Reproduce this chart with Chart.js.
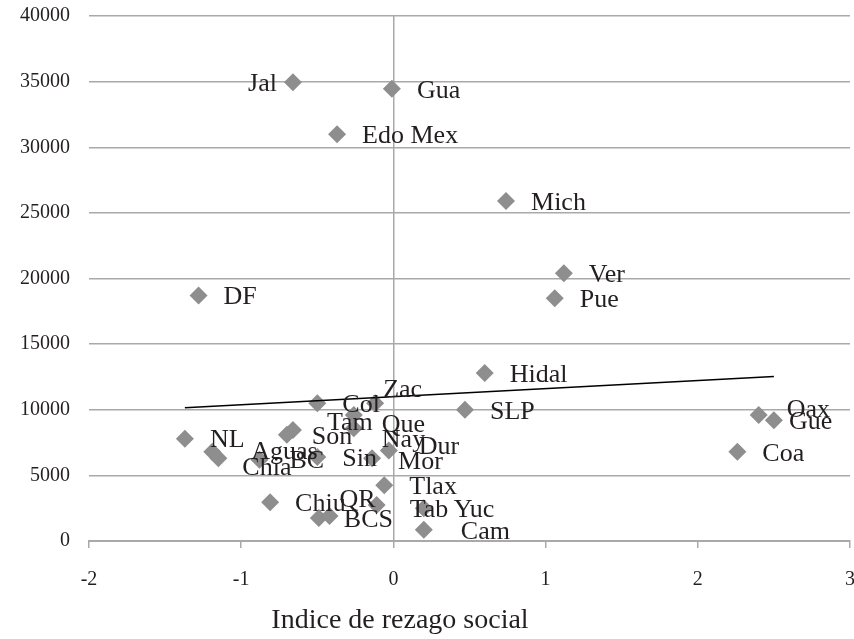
<!DOCTYPE html>
<html>
<head>
<meta charset="utf-8">
<script src="https://cdn.jsdelivr.net/npm/chart.js@4.4.0/dist/chart.umd.min.js"></script>
<style>
	html, body { margin: 0; padding: 0; background: #fff; overflow: hidden; }
	#wrap { width: 854px; height: 639px; }
</style>
</head>
<body>
<div id="wrap"><canvas id="scatter-chartcanvas"></canvas></div>
<script>
// data
var states = ["Jal", "Gua", "Edo Mex", "Mich", "Ver", "Pue", "DF", "Hidal", "SLP", "Oax", "Gue", "Coa",
	"NL", "Aguas", "Chia", "BC", "Col", "Zac", "Que", "Nay", "Son", "Tam", "Sin", "Mor", "Dur",
	"Chiu", "BCS", "QR", "Tlax", "Tab", "Yuc", "Cam"];
var rezago = [-0.66, -0.01, -0.37, 0.74, 1.12, 1.06, -1.28, 0.60, 0.47, 2.40, 2.50, 2.26,
	-1.37, -1.19, -1.15, -0.88, -0.50, -0.12, -0.26, -0.26, -0.70, -0.66, -0.50, -0.14, -0.03,
	-0.81, -0.49, -0.42, -0.06, -0.11, 0.20, 0.20];
var values = [34950, 34450, 31000, 25900, 20400, 18500, 18700, 12800, 10000, 9600, 9200, 6800,
	7800, 6800, 6300, 6200, 10500, 10500, 9600, 8600, 8100, 8450, 6400, 6300, 6900,
	2950, 1750, 1900, 4250, 2750, 2500, 850];
var xTicks = [-2, -1, 0, 1, 2, 3];
var yTicks = [0, 5000, 10000, 15000, 20000, 25000, 30000, 35000, 40000];
var xTitle = "Indice de rezago social";

var FONT = "'Liberation Serif', 'DejaVu Serif', serif";
var INK = "#231f20";
var GRID = "#a9a9a9";

var points = [];
for (var i = 0; i < states.length; i++) {
	points.push({ x: rezago[i], y: values[i] });
}

// linear trend line (least squares) over the data range
var n = rezago.length, sx = 0, sy = 0, sxx = 0, sxy = 0;
for (var i = 0; i < n; i++) {
	sx += rezago[i]; sy += values[i];
	sxx += rezago[i] * rezago[i]; sxy += rezago[i] * values[i];
}
var slope = (n * sxy - sx * sy) / (n * sxx - sx * sx);
var icpt = (sy - slope * sx) / n;
var xMin = Math.min.apply(null, rezago), xMax = Math.max.apply(null, rezago);
var trend = [{ x: xMin, y: icpt + slope * xMin }, { x: xMax, y: icpt + slope * xMax }];

// label nudges in pixels (default: right of the marker)
var nudge = {
	"Jal": { dx: -16, dy: 2, align: "right" },
	"Oax": { dx: 28, dy: -5 },
	"Gue": { dx: 15, dy: 2 },
	"Aguas": { dx: 39, dy: 0 },
	"Chia": { dx: 24, dy: 10 },
	"BC": { dx: 30, dy: 2 },
	"Zac": { dx: 8, dy: -13 },
	"Tam": { dx: 34, dy: -7 },
	"Que": { dx: 28, dy: 10 },
	"Nay": { dx: 28, dy: 12 },
	"Dur": { dx: 30, dy: -3 },
	"Mor": { dx: 26, dy: 4 },
	"QR": { dx: 10, dy: -16 },
	"Tab": { dx: 33, dy: 5 },
	"Yuc": { dx: 30, dy: 2 },
	"Cam": { dx: 37, dy: 2 }
};

var pointLabels = {
	id: "pointLabels",
	afterDatasetsDraw: function(chart) {
		var ctx = chart.ctx;
		var meta = chart.getDatasetMeta(1);
		ctx.save();
		ctx.font = "26px " + FONT;
		ctx.fillStyle = INK;
		ctx.textBaseline = "middle";
		meta.data.forEach(function(el, i) {
			var nd = nudge[states[i]] || { dx: 25, dy: 2 };
			ctx.textAlign = nd.align || "left";
			ctx.fillText(states[i], el.x + nd.dx, el.y + nd.dy);
		});
		// axis title, placed as in the original (left of the axis centre)
		ctx.font = "28px " + FONT;
		ctx.textAlign = "center";
		ctx.fillText(xTitle, 400, 621);
		ctx.restore();
	}
};

var ctx = document.getElementById("scatter-chartcanvas");

var chart = new Chart(ctx, {
	type: "scatter",
	data: {
		datasets: [
			{
				type: "line",
				label: "trend",
				data: trend,
				borderColor: "#000",
				borderWidth: 1.6,
				pointRadius: 0,
				fill: false,
				tension: 0
			},
			{
				label: "states",
				data: points,
				pointStyle: "rectRot",
				pointRadius: 9,
				pointHoverRadius: 9,
				backgroundColor: "#8e8e8e",
				borderWidth: 0
			}
		]
	},
	options: {
		responsive: true,
		maintainAspectRatio: false,
		animation: false,
		layout: { autoPadding: false, padding: { top: 16, right: 4, left: 0, bottom: 0 } },
		plugins: {
			legend: { display: false },
			tooltip: { enabled: false }
		},
		scales: {
			x: {
				type: "linear",
				min: xTicks[0],
				max: xTicks[xTicks.length - 1],
				afterBuildTicks: function(scale) {
					scale.ticks = xTicks.map(function(v) { return { value: v }; });
				},
				afterFit: function(scale) {
					scale.height = 98;
					scale.paddingLeft = 0;
					scale.paddingRight = 0;
				},
				grid: {
					color: function(c) { return c.tick && c.tick.value === 0 ? GRID : "rgba(0,0,0,0)"; },
					tickColor: GRID,
					lineWidth: 1.5,
					tickLength: 7
				},
				border: { color: GRID, width: 2 },
				ticks: {
					padding: 20,
					color: INK,
					font: { family: FONT, size: 20 }
				}
			},
			y: {
				type: "linear",
				min: yTicks[0],
				max: yTicks[yTicks.length - 1],
				afterBuildTicks: function(scale) {
					scale.ticks = yTicks.map(function(v) { return { value: v }; });
				},
				afterFit: function(scale) {
					scale.width = 89;
					scale.paddingTop = 0;
					scale.paddingBottom = 0;
				},
				grid: {
					color: GRID,
					lineWidth: 1.5,
					drawTicks: false
				},
				border: { display: false },
				ticks: {
					padding: 19,
					color: INK,
					font: { family: FONT, size: 20 },
					callback: function(v) { return String(v); }
				}
			}
		}
	},
	plugins: [pointLabels]
});
</script>
</body>
</html>
